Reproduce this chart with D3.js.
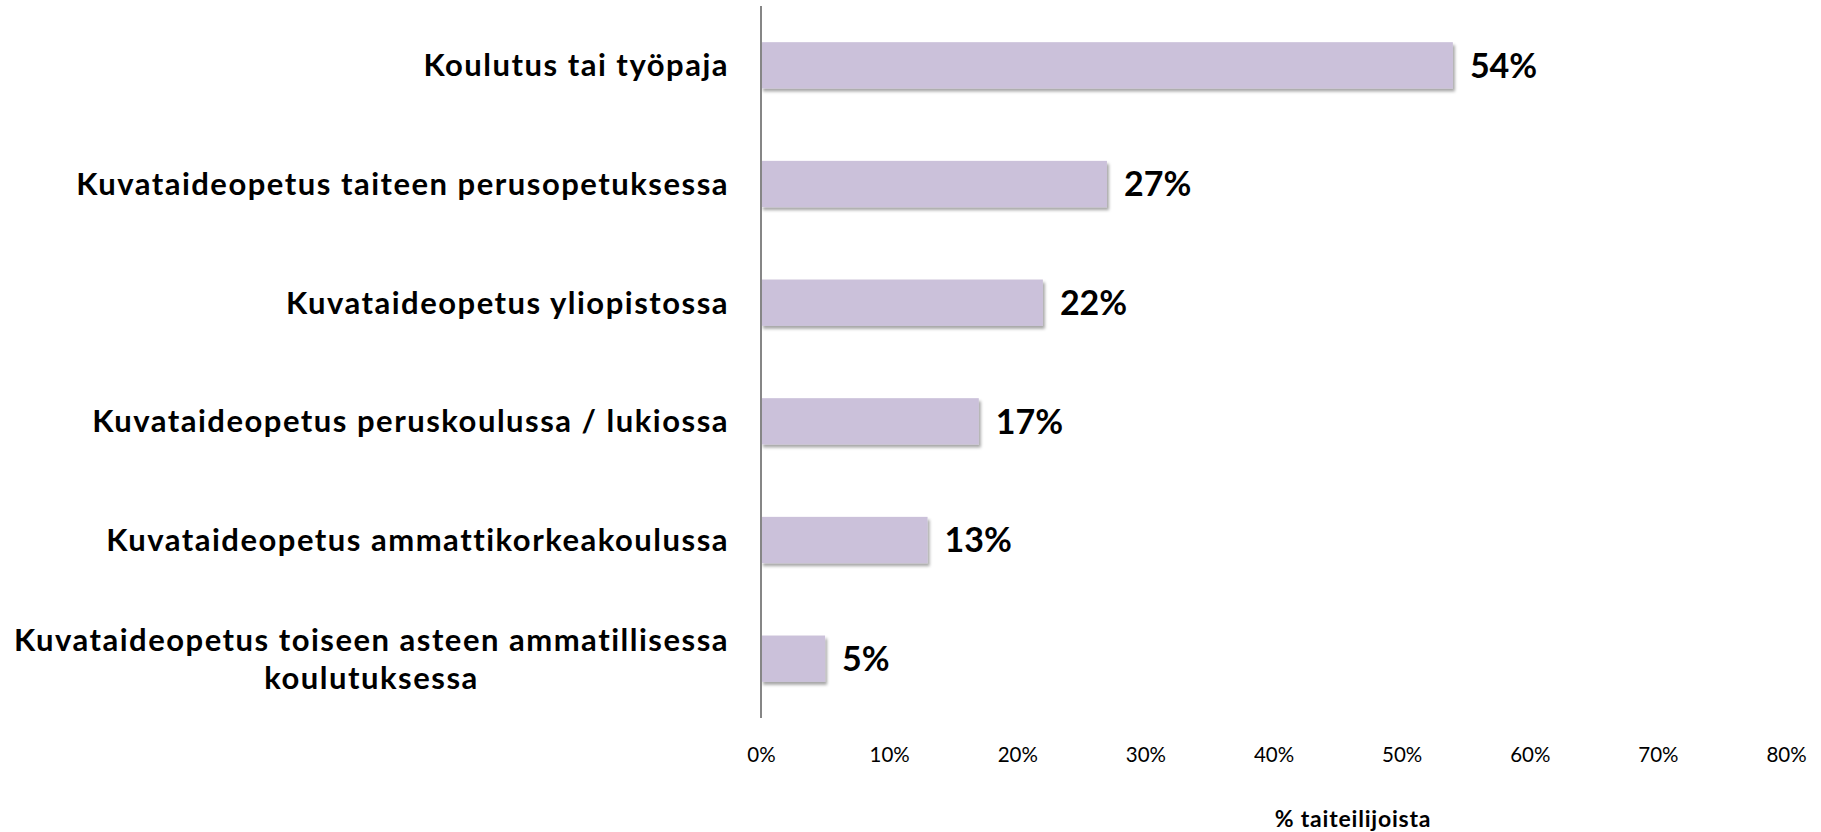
<!DOCTYPE html>
<html>
<head>
<meta charset="utf-8">
<script src="https://cdn.jsdelivr.net/npm/d3@7"></script>
<style>
  body { margin: 0; background: #fff; }
  svg { display: block; }
</style>
</head>
<body>
<svg id="chart" width="1821" height="832"></svg>
<script>
const categories = [
    ["Koulutus tai työpaja"],
    ["Kuvataideopetus taiteen perusopetuksessa"],
    ["Kuvataideopetus yliopistossa"],
    ["Kuvataideopetus peruskoulussa / lukiossa"],
    ["Kuvataideopetus ammattikorkeakoulussa"],
    ["Kuvataideopetus toiseen asteen ammatillisessa", "koulutuksessa"]
];
const values = [54, 27, 22, 17, 13, 5];
const tickValues = [0, 10, 20, 30, 40, 50, 60, 70, 80];
const axisTitle = "% taiteilijoista";

const svg = d3.select("#chart");

const x = d3.scaleLinear().domain([0, 80]).range([761, 1786]);
const y = d3
    .scaleBand()
    .domain(d3.range(categories.length))
    .range([6, 718])
    .paddingInner(0.61)
    .paddingOuter(0.305);

// Drop shadow for bars
const defs = svg.append("defs");
defs.append("filter")
    .attr("id", "shadow")
    .attr("x", "-10%").attr("y", "-20%")
    .attr("width", "130%").attr("height", "160%")
    .append("feDropShadow")
    .attr("dx", 2)
    .attr("dy", 3)
    .attr("stdDeviation", 1.8)
    .attr("flood-color", "#000")
    .attr("flood-opacity", 0.35);

svg.selectAll("rect.bar")
    .data(values)
    .enter()
    .append("rect")
    .attr("class", "bar")
    .attr("x", x(0))
    .attr("y", (d, i) => y(i))
    .attr("width", (d) => x(d) - x(0))
    .attr("height", y.bandwidth())
    .attr("fill", "#cbc1da")
    .attr("filter", "url(#shadow)");

// Vertical axis line
svg.append("line")
    .attr("x1", x(0)).attr("x2", x(0))
    .attr("y1", 6).attr("y2", 718)
    .attr("stroke", "#868686")
    .attr("stroke-width", 2);

// Value labels
svg.selectAll("text.value")
    .data(values)
    .enter()
    .append("text")
    .attr("class", "value")
    .attr("x", (d) => x(d) + 17)
    .attr("y", (d, i) => y(i) + y.bandwidth() / 2)
    .attr("dy", "0.36em")
    .attr("font-family", "Lato, sans-serif")
    .attr("font-weight", "bold")
    .attr("font-size", 34)
    .attr("fill", "#000")
    .text((d) => d + "%");

// Category labels
const catGroup = svg.selectAll("text.cat")
    .data(categories)
    .enter()
    .append("text")
    .attr("class", "cat")
    .attr("text-anchor", "middle")
    .attr("font-family", "Lato, sans-serif")
    .attr("font-weight", "bold")
    .attr("font-size", 31)
    .attr("letter-spacing", 1.5)
    .attr("fill", "#000");

catGroup.each(function (lines, i) {
    const t = d3.select(this);
    const cy = y(i) + y.bandwidth() / 2;
    const lh = 38;
    const top = cy - (lines.length - 1) * lh / 2;
    lines.forEach((s, k) => {
        t.append("tspan")
            .attr("y", top + k * lh)
            .attr("dy", "0.36em")
            .text(s);
    });
});
// right edge at 729, extra lines centred on the widest one
catGroup.each(function () {
    const spans = d3.select(this).selectAll("tspan").nodes();
    const maxW = d3.max(spans, (n) => n.getComputedTextLength());
    spans.forEach((n) => d3.select(n).attr("x", 729 - maxW / 2));
});

// X axis tick labels
svg.append("g")
    .attr("transform", "translate(0,755)")
    .call(d3.axisBottom(x).tickValues(tickValues).tickSize(0).tickFormat((d) => d + "%"))
    .call((g) => g.select(".domain").remove())
    .selectAll("text")
    .attr("dy", "0.36em")
    .attr("y", 0)
    .attr("font-family", "Lato, sans-serif")
    .attr("font-size", 20.5)
    .attr("fill", "#000");

svg.append("text")
    .attr("x", 1353)
    .attr("y", 819)
    .attr("dy", "0.36em")
    .attr("text-anchor", "middle")
    .attr("font-family", "Lato, sans-serif")
    .attr("font-weight", "bold")
    .attr("font-size", 23)
    .attr("letter-spacing", 0.8)
    .text(axisTitle);
</script>
</body>
</html>
